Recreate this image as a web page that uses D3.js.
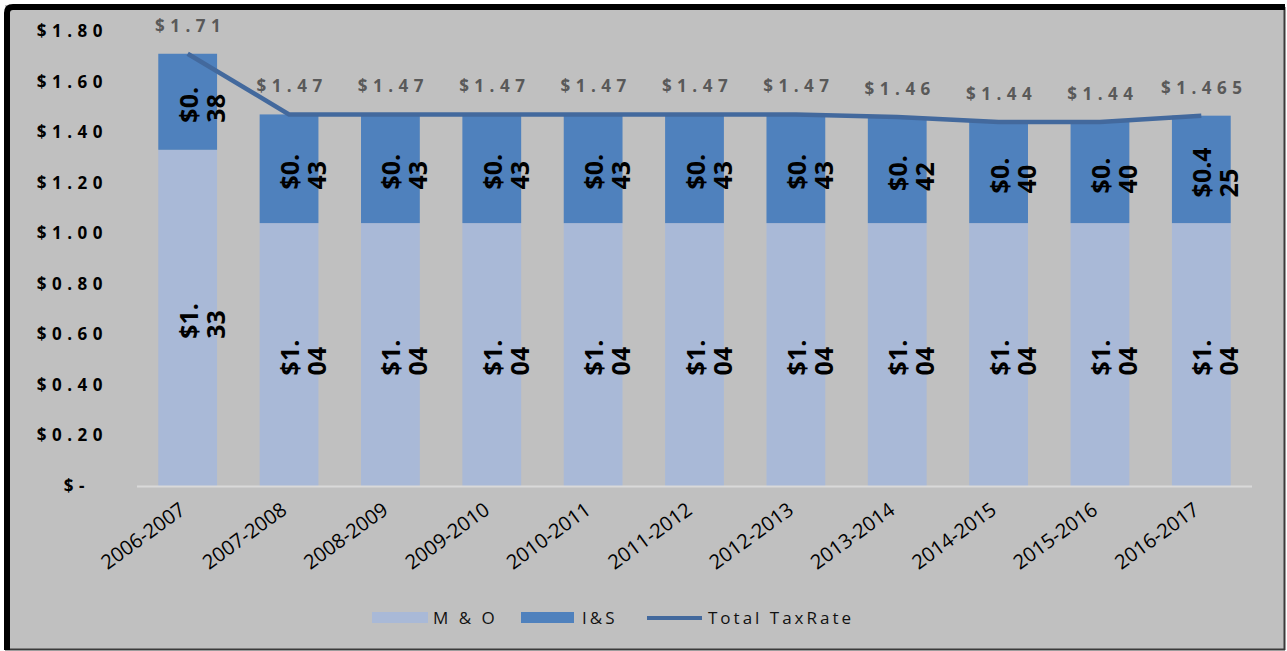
<!DOCTYPE html>
<html>
<head>
<meta charset="utf-8">
<script src="https://cdn.jsdelivr.net/npm/d3@7"></script>
<style>
  body { margin: 0; background: #ffffff; }
  svg { display: block; }
  text { font-family: "Open Sans", "Noto Sans", sans-serif; }
</style>
</head>
<body>
<div id="chart"></div>
<script>
// chart values
var years = ["2006-2007", "2007-2008", "2008-2009", "2009-2010", "2010-2011", "2011-2012",
             "2012-2013", "2013-2014", "2014-2015", "2015-2016", "2016-2017"];
var moRate = [1.33, 1.04, 1.04, 1.04, 1.04, 1.04, 1.04, 1.04, 1.04, 1.04, 1.04];
var isRate = [0.38, 0.43, 0.43, 0.43, 0.43, 0.43, 0.43, 0.42, 0.40, 0.40, 0.425];
var totalRate = [1.71, 1.47, 1.47, 1.47, 1.47, 1.47, 1.47, 1.46, 1.44, 1.44, 1.465];
var yTicks = [0, 0.2, 0.4, 0.6, 0.8, 1.0, 1.2, 1.4, 1.6, 1.8];
var legendNames = ["M & O", "I&S", "Total TaxRate"];

var width = 1287, height = 651;
var colMO = "#a9b9d7", colIS = "#4f81bd", colLine = "#43699d";

var svg = d3.select("#chart").append("svg")
    .attr("width", width)
    .attr("height", height);

// frame
svg.append("rect")
    .attr("x", 5).attr("y", 5)
    .attr("width", 1280).attr("height", 645)
    .attr("fill", "#c0c0c0");
svg.append("path")
    .attr("d", "M1284.5,650 L1284.5,7 M5,649.5 L1285,649.5")
    .attr("stroke", "#3a3a3a").attr("stroke-width", 2).attr("fill", "none");
svg.append("path")
    .attr("d", "M7,650 L7,13 Q7,7 13,7 L1285,7")
    .attr("stroke", "#000").attr("stroke-width", 6).attr("fill", "none");

function money(v) {
    var s = Math.abs(v * 100 - Math.round(v * 100)) < 1e-6 ? v.toFixed(2) : String(v);
    return "$" + s;
}

var x = d3.scaleBand()
    .domain(years)
    .range([137, 1252])
    .paddingInner(0.42)
    .paddingOuter(0.21);

var y = d3.scaleLinear()
    .domain([0, 1.8])
    .range([486, 31]);

// y axis labels
var yAxis = d3.axisLeft(y)
    .tickValues(yTicks)
    .tickSize(0)
    .tickPadding(0)
    .tickFormat(function(d) { return d === 0 ? "$-" : money(d); });

var yg = svg.append("g")
    .attr("transform", "translate(108,0)")
    .call(yAxis);
yg.select(".domain").remove();
yg.selectAll("text")
    .attr("font-size", 17)
    .attr("font-weight", "bold")
    .attr("fill", "#000")
    .style("letter-spacing", "5.5px")
    .attr("dx", function(d) { return d === 0 ? -18 : 0; });

// stacked bars
var stackData = years.map(function(yr, i) {
    return { year: yr, mo: moRate[i], is: isRate[i] };
});
var series = d3.stack().keys(["mo", "is"])(stackData);
var colors = { mo: colMO, is: colIS };

svg.append("g").selectAll("g")
    .data(series)
    .enter()
    .append("g")
    .attr("fill", function(s) { return colors[s.key]; })
    .selectAll("rect")
    .data(function(s) { return s; })
    .enter()
    .append("rect")
    .attr("x", function(d) { return x(d.data.year); })
    .attr("y", function(d) { return y(d[1]); })
    .attr("height", function(d) { return y(d[0]) - y(d[1]); })
    .attr("width", x.bandwidth());

// baseline
svg.append("line")
    .attr("x1", x.range()[0]).attr("x2", x.range()[1])
    .attr("y1", y(0) + 0.5).attr("y2", y(0) + 0.5)
    .attr("stroke", "#d9d9d9").attr("stroke-width", 2);

// total line
var line = d3.line()
    .x(function(d, i) { return x(years[i]) + x.bandwidth() / 2; })
    .y(function(d) { return y(d); });

svg.append("path")
    .datum(totalRate)
    .attr("d", line)
    .attr("fill", "none")
    .attr("stroke", colLine)
    .attr("stroke-width", 4.5);

// total labels
svg.append("g").selectAll("text")
    .data(totalRate)
    .enter()
    .append("text")
    .attr("x", function(d, i) { return x(years[i]) + x.bandwidth() / 2 + 3; })
    .attr("y", function(d) { return y(d) - 22; })
    .attr("text-anchor", "middle")
    .attr("font-size", 17)
    .attr("font-weight", "bold")
    .attr("fill", "#595959")
    .style("letter-spacing", "5.5px")
    .text(function(d) { return money(d); });

// segment labels, rotated and wrapped in two lines
series.forEach(function(s) {
    s.forEach(function(d, i) {
        var txt = money(d.data[s.key]);
        var lines = [txt.slice(0, txt.length - 2), txt.slice(txt.length - 2)];
        var cx = x(years[i]) + x.bandwidth() / 2;
        var cy = (y(d[0]) + y(d[1])) / 2;
        var g = svg.append("g").attr("transform", "translate(" + cx + "," + cy + ") rotate(-90)");
        var t = g.append("text")
            .attr("font-size", 25)
            .attr("font-weight", "bold")
            .attr("fill", "#000");
        var spans = lines.map(function(l, k) {
            return t.append("tspan").attr("y", 10 + k * 27).text(l);
        });
        var maxL = d3.max(spans, function(sp) { return sp.node().getComputedTextLength(); });
        spans.forEach(function(sp) { sp.attr("x", -(maxL / 2 + 3)); });
    });
});

// x labels
svg.append("g").selectAll("text")
    .data(years)
    .enter()
    .append("text")
    .attr("transform", function(d) {
        return "translate(" + (x(d) + x.bandwidth() / 2 - 5) + ",507) rotate(-36)";
    })
    .attr("text-anchor", "end")
    .attr("dy", "0.35em")
    .attr("font-size", 20)
    .attr("fill", "#000")
    .text(function(d) { return d; });

// legend
var legend = svg.append("g");
legend.append("rect").attr("x", 372).attr("y", 612).attr("width", 56).attr("height", 11).attr("fill", colMO);
legend.append("rect").attr("x", 521).attr("y", 612).attr("width", 53).attr("height", 11).attr("fill", colIS);
legend.append("line").attr("x1", 647).attr("x2", 702).attr("y1", 618).attr("y2", 618)
    .attr("stroke", colLine).attr("stroke-width", 4);
var legendX = [433, 582, 708];
legend.selectAll("text")
    .data(legendNames)
    .enter()
    .append("text")
    .attr("x", function(d, i) { return legendX[i]; })
    .attr("y", 618)
    .attr("dy", "0.35em")
    .attr("font-size", 17)
    .attr("fill", "#111")
    .style("letter-spacing", "3px")
    .text(function(d) { return d; });
</script>
</body>
</html>
